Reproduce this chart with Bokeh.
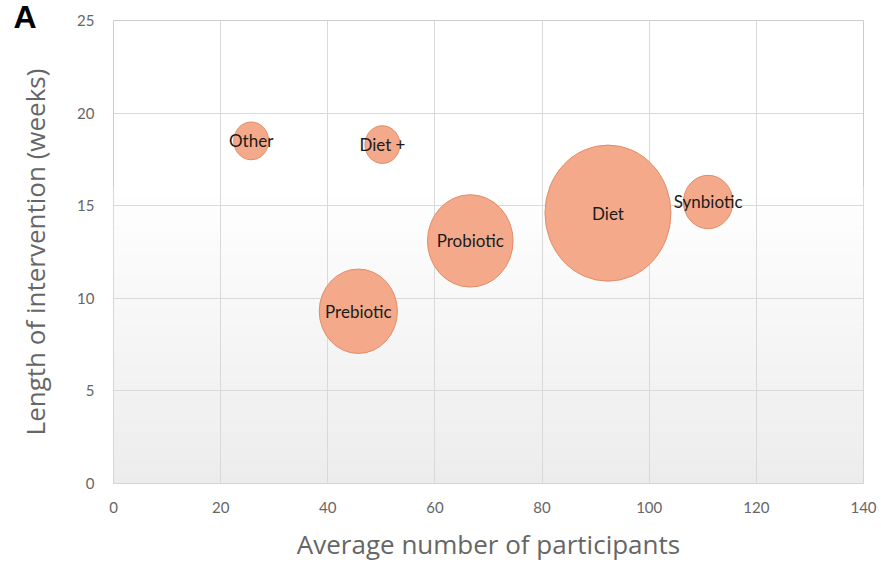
import numpy as np
from bokeh.plotting import figure
from bokeh.models import ColumnDataSource, FixedTicker, BoxAnnotation, Range1d
from bokeh.core.properties import value
from bokeh.embed import file_html
from bokeh.resources import INLINE

# ---- data ----
categories = ["Other", "Diet +", "Prebiotic", "Probiotic", "Diet", "Synbiotic"]
participants = [25.7, 50.2, 45.7, 66.6, 92.3, 111.0]
weeks = [18.5, 18.3, 9.3, 13.1, 14.6, 15.2]
bubble_value = [1, 1, 5, 6, 13, 2]

x_ticks = [0, 20, 40, 60, 80, 100, 120, 140]
y_ticks = [0, 5, 10, 15, 20, 25]

W, H = 881, 566

# ---- bubble scaling (area proportional to value, like Excel) ----
max_r = 63.0
bv = np.array(bubble_value, dtype=float)
r = max_r * np.sqrt(bv / bv.max())
src = ColumnDataSource(dict(x=participants, y=weeks, label=categories,
                            w=2 * r, h=2 * r * 1.08))

p = figure(width=W, height=H, output_backend="svg", toolbar_location=None,
           x_range=Range1d(x_ticks[0], x_ticks[-1]), y_range=Range1d(y_ticks[0], y_ticks[-1]),
           min_border_left=113, min_border_right=18, min_border_top=20, min_border_bottom=83)
p.background_fill_color = "white"
p.border_fill_color = "white"
p.outline_line_color = "#cccccc"
p.outline_line_width = 1

# panel letter as the plot title
p.title.text = "A"
p.title.align = "left"
p.title.offset = -100
p.title.standoff = -29
p.title.text_font = "Arial"
p.title.text_font_style = "bold"
p.title.text_font_size = "32px"
p.title.text_color = "black"

# subtle vertical gradient of the plot area (white -> light gray)
N = 40
grad_top = 16.0
for i in range(N):
    b0 = grad_top * i / N
    b1 = grad_top * (i + 1) / N + 0.02
    c = int(round(236 + 19 * (i + 0.5) / N))
    p.add_layout(BoxAnnotation(bottom=b0, top=b1, fill_color=(c, c, c), fill_alpha=1.0,
                               line_color=None, level="image"))

p.xgrid.grid_line_color = "#d9d9d9"
p.ygrid.grid_line_color = "#d9d9d9"
p.xgrid.grid_line_width = 1
p.ygrid.grid_line_width = 1

p.ellipse(x="x", y="y", width="w", height="h", width_units="screen", height_units="screen",
          source=src, fill_color="#F4AA8A", fill_alpha=1.0,
          line_color="#E08C66", line_width=1)

p.text(x="x", y="y", text="label", source=src, text_align="center", text_baseline="middle",
       text_font=value("Lato"), text_font_size="17px", text_color="#1a1a1a")

for ax, ticks in ((p.xaxis, x_ticks), (p.yaxis, y_ticks)):
    ax.ticker = FixedTicker(ticks=ticks)
    ax.axis_line_color = None
    ax.major_tick_line_color = None
    ax.minor_tick_line_color = None
    ax.major_label_text_font = "Lato"
    ax.major_label_text_font_size = "15px"
    ax.major_label_text_color = "#666666"
    ax.axis_label_text_font = "Open Sans"
    ax.axis_label_text_font_style = "normal"
    ax.axis_label_text_font_size = "26px"
    ax.axis_label_text_color = "#666666"

p.xaxis.axis_label = "Average number of participants"
p.yaxis.axis_label = "Length of intervention (weeks)"
p.xaxis.major_label_standoff = 12
p.yaxis.major_label_standoff = 13
p.xaxis.axis_label_standoff = 10
p.yaxis.axis_label_standoff = 21

open("out.html", "w").write(file_html(p, INLINE))
